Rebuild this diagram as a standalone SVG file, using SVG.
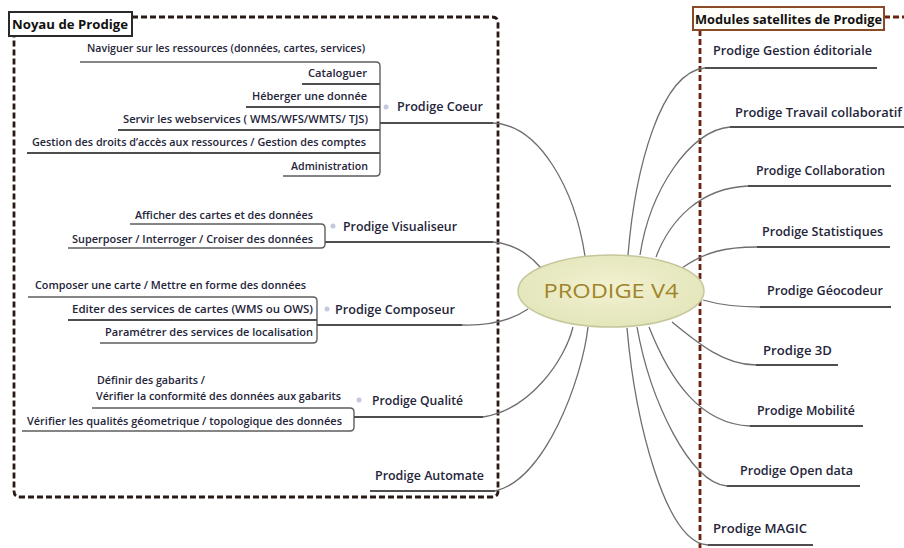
<svg xmlns="http://www.w3.org/2000/svg" width="904" height="548" viewBox="0 0 904 548">
<defs>
<radialGradient id="eg" cx="50%" cy="45%" r="60%">
<stop offset="0" stop-color="#f2f1d2"/>
<stop offset="1" stop-color="#e2e5b8"/>
</radialGradient>
</defs>
<style>
.t{font-family:"Open Sans","Liberation Sans",sans-serif;font-weight:600;fill:#25253a}
.s{font-size:11px}
.m{font-size:12.5px}
.h{font-family:"Open Sans","Liberation Sans",sans-serif;font-weight:700;font-size:12.5px;fill:#111}
.u{fill:none;stroke:#4e4e4e;stroke-width:1.8}
.b{fill:none;stroke:#5e5e5e;stroke-width:1.4}
.c{fill:none;stroke:#6e6e6e;stroke-width:1.3}
.dot{fill:#c5c9dd}
.dl{fill:none;stroke:#2a1a16;stroke-width:2.8;stroke-dasharray:6 3}
.dr{fill:none;stroke:#6b2210;stroke-width:2.8;stroke-dasharray:6 3}
</style>
<rect width="904" height="548" fill="#ffffff"/>

<g id="frame-noyau">
<path class="dl" d="M132,17 H492 Q498,17 498,23 V491 Q498,497 492,497 H20 Q14,497 14,491 V36"/>
<rect x="9" y="12" width="123" height="24" fill="#fff" stroke="#2a2a2a" stroke-width="2"/>
<text class="h" x="12" y="29" textLength="116" lengthAdjust="spacingAndGlyphs">Noyau de Prodige</text>
</g>

<g id="frame-satellites">
<path class="dr" d="M884,17 H904 M700,30 V548"/>
<rect x="693" y="7" width="191" height="23" fill="#fffdf8" stroke="#8a4a28" stroke-width="2"/>
<text class="h" x="695" y="24" textLength="187" lengthAdjust="spacingAndGlyphs">Modules satellites de Prodige</text>
</g>

<g id="connectors">
<path class="c" d="M493,123 C540,125 575,190 585,256"/>
<path class="c" d="M493,242 C515,244 530,255 541,268"/>
<path class="c" d="M462,325 C495,326 515,318 528,309"/>
<path class="c" d="M483,417 C530,410 565,360 573,327"/>
<path class="c" d="M495,491 C545,480 582,380 588,327"/>
<path class="c" d="M628,255 C635,170 660,72 705,68"/>
<path class="c" d="M640,255 C650,190 690,130 730,127"/>
<path class="c" d="M656,257 C670,220 700,188 748,186"/>
<path class="c" d="M682,268 C705,252 725,247 757,247"/>
<path class="c" d="M703,300 C720,305 735,307 760,307"/>
<path class="c" d="M672,322 C700,345 725,365 756,365"/>
<path class="c" d="M649,327 C670,380 700,424 750,426"/>
<path class="c" d="M637,327 C650,400 690,484 727,486"/>
<path class="c" d="M627,328 C635,420 665,543 708,545"/>
</g>

<g id="center">
<ellipse cx="611" cy="291" rx="93" ry="36" fill="url(#eg)" stroke="#c6c69c" stroke-width="1.5"/>
<text x="611" y="298" text-anchor="middle" font-family="Open Sans, Liberation Sans, sans-serif" font-size="20" fill="#a0842a" textLength="135" lengthAdjust="spacingAndGlyphs">PRODIGE V4</text>
</g>

<g id="prodige-coeur">
<path class="b" d="M80,62 H376 Q380,62 380,66 V172 Q380,176 376,176 H283"/>
<path class="u" d="M302,84 H380 M246,107 H380 M118,130 H380 M27,153 H380"/>
<path class="u" d="M380,123 H493"/>
<circle class="dot" cx="386" cy="107" r="2.5"/>
<text class="t s" x="87" y="52" textLength="278" lengthAdjust="spacingAndGlyphs">Naviguer sur les ressources (données, cartes, services)</text>
<text class="t s" x="308" y="77" textLength="59" lengthAdjust="spacingAndGlyphs">Cataloguer</text>
<text class="t s" x="252" y="100" textLength="115" lengthAdjust="spacingAndGlyphs">Héberger une donnée</text>
<text class="t s" x="123" y="123" textLength="245" lengthAdjust="spacingAndGlyphs">Servir les webservices ( WMS/WFS/WMTS/ TJS)</text>
<text class="t s" x="32" y="146" textLength="334" lengthAdjust="spacingAndGlyphs">Gestion des droits d’accès aux ressources / Gestion des comptes</text>
<text class="t s" x="291" y="170" textLength="77" lengthAdjust="spacingAndGlyphs">Administration</text>
<text class="t m" x="397" y="111" textLength="86" lengthAdjust="spacingAndGlyphs">Prodige Coeur</text>
</g>

<g id="prodige-visualiseur">
<path class="b" d="M130,224 H321 Q325,224 325,228 V244 Q325,248 321,248 H68"/>
<path class="u" d="M325,242 H493"/>
<circle class="dot" cx="333" cy="226" r="2.5"/>
<text class="t s" x="135" y="219" textLength="178" lengthAdjust="spacingAndGlyphs">Afficher des cartes et des données</text>
<text class="t s" x="72" y="243" textLength="241" lengthAdjust="spacingAndGlyphs">Superposer / Interroger / Croiser des données</text>
<text class="t m" x="343" y="231" textLength="114" lengthAdjust="spacingAndGlyphs">Prodige Visualiseur</text>
</g>

<g id="prodige-composeur">
<path class="b" d="M28,297 H313 Q317,297 317,301 V339 Q317,343 313,343 H100"/>
<path class="u" d="M68,320 H317"/>
<path class="u" d="M317,325 H462"/>
<circle class="dot" cx="327" cy="309" r="2.5"/>
<text class="t s" x="35" y="289" textLength="271" lengthAdjust="spacingAndGlyphs">Composer une carte / Mettre en forme des données</text>
<text class="t s" x="72" y="313" textLength="241" lengthAdjust="spacingAndGlyphs">Editer des services de cartes (WMS ou OWS)</text>
<text class="t s" x="105" y="336" textLength="208" lengthAdjust="spacingAndGlyphs">Paramétrer des services de localisation</text>
<text class="t m" x="335" y="314" textLength="120" lengthAdjust="spacingAndGlyphs">Prodige Composeur</text>
</g>

<g id="prodige-qualite">
<path class="b" d="M92,408 H350 Q354,408 354,412 V427 Q354,431 350,431 H22"/>
<path class="u" d="M354,417 H483"/>
<circle class="dot" cx="359" cy="400" r="2.5"/>
<text class="t s" x="97" y="384" textLength="108" lengthAdjust="spacingAndGlyphs">Définir des gabarits /</text>
<text class="t s" x="96" y="400" textLength="245" lengthAdjust="spacingAndGlyphs">Vérifier la conformité des données aux gabarits</text>
<text class="t s" x="27" y="425" textLength="315" lengthAdjust="spacingAndGlyphs">Vérifier les qualités géometrique / topologique des données</text>
<text class="t m" x="372" y="405" textLength="91" lengthAdjust="spacingAndGlyphs">Prodige Qualité</text>
</g>

<g id="prodige-automate">
<path class="u" d="M370,491 H495"/>
<text class="t m" x="375" y="480" textLength="109" lengthAdjust="spacingAndGlyphs">Prodige Automate</text>
</g>

<g id="sat-gestion-editoriale">
<path class="u" d="M705,68 H877"/>
<text class="t m" x="713" y="55" textLength="159" lengthAdjust="spacingAndGlyphs">Prodige Gestion éditoriale</text>
</g>
<g id="sat-travail-collaboratif">
<path class="u" d="M730,127 H904"/>
<text class="t m" x="735" y="117" textLength="167" lengthAdjust="spacingAndGlyphs">Prodige Travail collaboratif</text>
</g>
<g id="sat-collaboration">
<path class="u" d="M748,186 H891"/>
<text class="t m" x="756" y="175" textLength="129" lengthAdjust="spacingAndGlyphs">Prodige Collaboration</text>
</g>
<g id="sat-statistiques">
<path class="u" d="M757,247 H890"/>
<text class="t m" x="762" y="236" textLength="121" lengthAdjust="spacingAndGlyphs">Prodige Statistiques</text>
</g>
<g id="sat-geocodeur">
<path class="u" d="M760,307 H891"/>
<text class="t m" x="767" y="295" textLength="116" lengthAdjust="spacingAndGlyphs">Prodige Géocodeur</text>
</g>
<g id="sat-3d">
<path class="u" d="M756,365 H838"/>
<text class="t m" x="763" y="355" textLength="69" lengthAdjust="spacingAndGlyphs">Prodige 3D</text>
</g>
<g id="sat-mobilite">
<path class="u" d="M750,426 H863"/>
<text class="t m" x="757" y="415" textLength="98" lengthAdjust="spacingAndGlyphs">Prodige Mobilité</text>
</g>
<g id="sat-open-data">
<path class="u" d="M727,486 H860"/>
<text class="t m" x="740" y="475" textLength="113" lengthAdjust="spacingAndGlyphs">Prodige Open data</text>
</g>
<g id="sat-magic">
<path class="u" d="M708,545 H813"/>
<text class="t m" x="713" y="533" textLength="94" lengthAdjust="spacingAndGlyphs">Prodige MAGIC</text>
</g>
</svg>
